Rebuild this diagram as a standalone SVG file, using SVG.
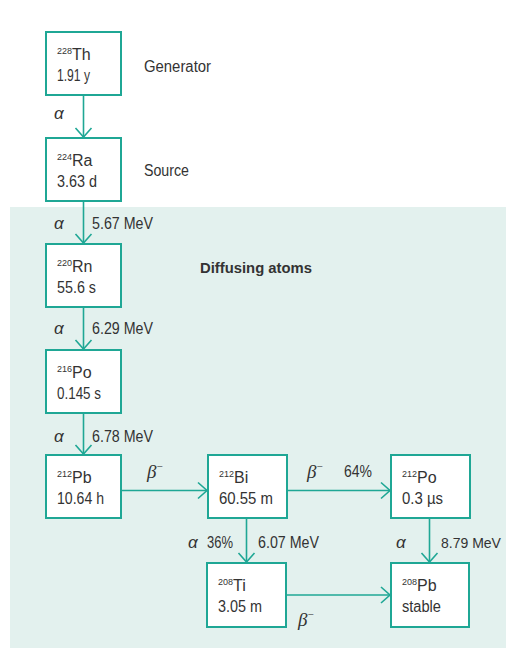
<svg xmlns="http://www.w3.org/2000/svg" width="506" height="648" viewBox="0 0 506 648">
<style>
text{font-family:"Liberation Sans",Arial,sans-serif;font-size:16px;fill:#333}
.sup{font-size:9px}
.m{font-size:11px}
.b{font-weight:bold;font-size:15px}
.g{font-family:"Liberation Serif","DejaVu Serif",serif;font-style:italic;font-size:19px}
.a{font-style:italic;font-size:17px}
.s{font-size:14px}
.box{fill:#fff;stroke:#1fa795;stroke-width:2}
.c{stroke:#1fa795;stroke-width:1.6;fill:none;marker-end:url(#arr)}
</style>
<defs>
<marker id="arr" markerUnits="userSpaceOnUse" markerWidth="20" markerHeight="20" refX="10" refY="10" orient="auto" viewBox="0 0 20 20">
<path d="M1 2 L10 10 L1 18" fill="none" stroke="#1fa795" stroke-width="1.6"/>
</marker>
</defs>
<rect x="10" y="207" width="496" height="441" fill="#e3f1ee"/>
<g id="connectors">
<line class="c" x1="83.5" y1="95" x2="83.5" y2="137"/>
<line class="c" x1="83.5" y1="201" x2="83.5" y2="243"/>
<line class="c" x1="83.5" y1="307" x2="83.5" y2="349"/>
<line class="c" x1="83.5" y1="413" x2="83.5" y2="454"/>
<line class="c" x1="121" y1="490.5" x2="207" y2="490.5"/>
<line class="c" x1="287" y1="490.5" x2="390" y2="490.5"/>
<line class="c" x1="246.5" y1="518" x2="246.5" y2="562"/>
<line class="c" x1="429.5" y1="518" x2="429.5" y2="562"/>
<line class="c" x1="286" y1="595" x2="390" y2="595"/>
</g>
<g id="labels">
<text x="144" y="72" textLength="67" lengthAdjust="spacingAndGlyphs">Generator</text>
<text x="144" y="176" textLength="45" lengthAdjust="spacingAndGlyphs">Source</text>
<text class="b" x="200" y="273" textLength="112" lengthAdjust="spacingAndGlyphs">Diffusing atoms</text>
<text class="a" x="54" y="119">α</text>
<text class="a" x="54" y="229">α</text>
<text x="92" y="229" textLength="61" lengthAdjust="spacingAndGlyphs">5.67 MeV</text>
<text class="a" x="54" y="334">α</text>
<text x="92" y="334" textLength="61" lengthAdjust="spacingAndGlyphs">6.29 MeV</text>
<text class="a" x="54" y="442">α</text>
<text x="92" y="442" textLength="61" lengthAdjust="spacingAndGlyphs">6.78 MeV</text>
<text class="g" x="147" y="478">β<tspan class="m" dy="-8" font-style="normal">−</tspan></text>
<text class="g" x="307" y="478">β<tspan class="m" dy="-8" font-style="normal">−</tspan></text>
<text x="344" y="477" textLength="28" lengthAdjust="spacingAndGlyphs">64%</text>
<text class="a" x="188" y="548">α</text>
<text x="207" y="548" textLength="26" lengthAdjust="spacingAndGlyphs">36%</text>
<text x="258" y="548" textLength="61" lengthAdjust="spacingAndGlyphs">6.07 MeV</text>
<text class="a" x="396" y="548">α</text>
<text class="s" x="441" y="548">8.79 MeV</text>
<text class="g" x="298" y="626">β<tspan class="m" dy="-8" font-style="normal">−</tspan></text>
</g>
<g id="th228"><rect class="box" x="46" y="32" width="75" height="63"/><text x="57" y="60"><tspan class="sup" dy="-6">228</tspan><tspan dy="6">Th</tspan></text><text x="57" y="81" textLength="33" lengthAdjust="spacingAndGlyphs">1.91 y</text></g>
<g id="ra224"><rect class="box" x="46" y="138" width="75" height="63"/><text x="57" y="166"><tspan class="sup" dy="-6">224</tspan><tspan dy="6">Ra</tspan></text><text x="57" y="187" textLength="40" lengthAdjust="spacingAndGlyphs">3.63 d</text></g>
<g id="rn220"><rect class="box" x="46" y="244" width="75" height="63"/><text x="57" y="272"><tspan class="sup" dy="-6">220</tspan><tspan dy="6">Rn</tspan></text><text x="57" y="293" textLength="39" lengthAdjust="spacingAndGlyphs">55.6 s</text></g>
<g id="po216"><rect class="box" x="46" y="350" width="75" height="63"/><text x="57" y="378"><tspan class="sup" dy="-6">216</tspan><tspan dy="6">Po</tspan></text><text x="57" y="399" textLength="44" lengthAdjust="spacingAndGlyphs">0.145 s</text></g>
<g id="pb212"><rect class="box" x="46" y="455" width="75" height="63"/><text x="57" y="483"><tspan class="sup" dy="-6">212</tspan><tspan dy="6">Pb</tspan></text><text x="57" y="504" textLength="47" lengthAdjust="spacingAndGlyphs">10.64 h</text></g>
<g id="bi212"><rect class="box" x="208" y="455" width="79" height="63"/><text x="219" y="483"><tspan class="sup" dy="-6">212</tspan><tspan dy="6">Bi</tspan></text><text x="219" y="504" textLength="54" lengthAdjust="spacingAndGlyphs">60.55 m</text></g>
<g id="po212"><rect class="box" x="391" y="455" width="79" height="63"/><text x="402" y="483"><tspan class="sup" dy="-6">212</tspan><tspan dy="6">Po</tspan></text><text x="402" y="504" textLength="41" lengthAdjust="spacingAndGlyphs">0.3 µs</text></g>
<g id="ti208"><rect class="box" x="207" y="563" width="79" height="64"/><text x="218" y="591"><tspan class="sup" dy="-6">208</tspan><tspan dy="6">Ti</tspan></text><text x="218" y="612" textLength="44" lengthAdjust="spacingAndGlyphs">3.05 m</text></g>
<g id="pb208"><rect class="box" x="391" y="563" width="78" height="64"/><text x="402" y="591"><tspan class="sup" dy="-6">208</tspan><tspan dy="6">Pb</tspan></text><text x="402" y="612" textLength="39" lengthAdjust="spacingAndGlyphs">stable</text></g>
</svg>
